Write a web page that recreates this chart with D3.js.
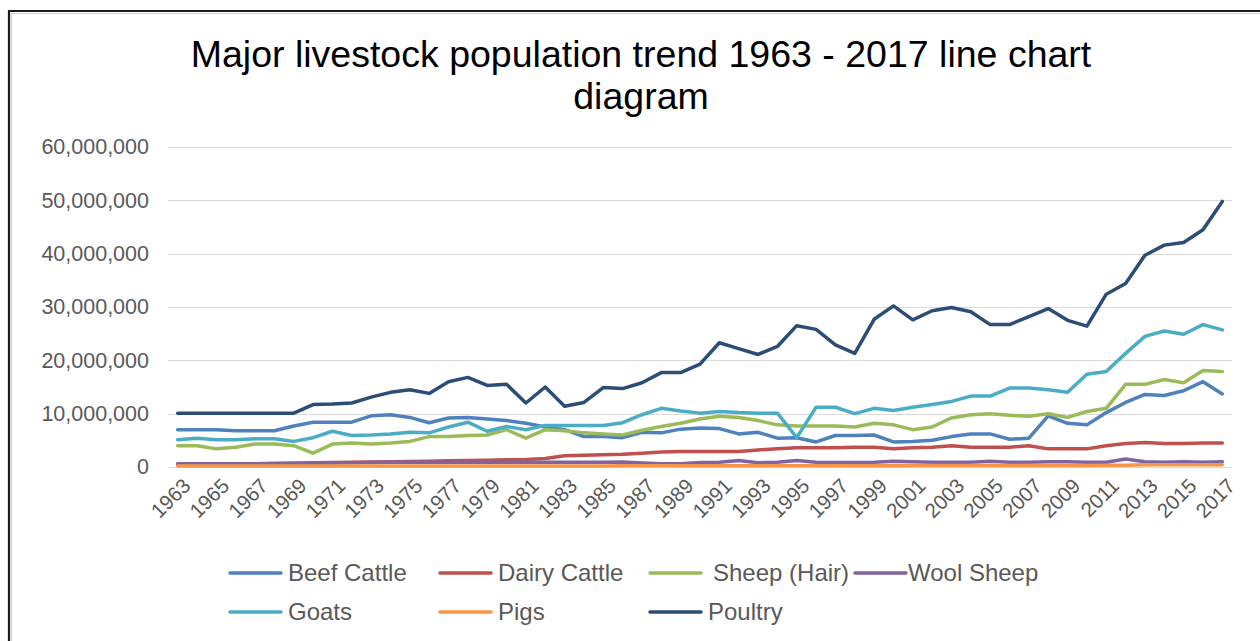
<!DOCTYPE html>
<html>
<head>
<meta charset="utf-8">
<script src="https://cdn.jsdelivr.net/npm/d3@7/dist/d3.min.js"></script>
<style>
  html, body { margin: 0; padding: 0; background: #fff; }
  svg { display: block; font-family: "Liberation Sans", Arial, sans-serif; }
</style>
</head>
<body>
<svg id="chart" width="1260" height="641"></svg>
<script>
// ---- data (values in millions of head) ----
const years = d3.range(1963, 2018);
const seriesNames = ["Beef Cattle", "Dairy Cattle", "Sheep (Hair)", "Wool Sheep", "Goats", "Pigs", "Poultry"];
const seriesColors = ["#4F81BD", "#C0504D", "#9BBB59", "#8064A2", "#4BACC6", "#F79646", "#2C4D75"];

const beefCattle = [7.0, 7.0, 7.0, 6.8, 6.8, 6.8, 7.7, 8.4, 8.4, 8.4,
  9.6, 9.8, 9.3, 8.3, 9.2, 9.3, 9.0, 8.7, 8.2, 7.5,
  7.0, 5.7, 5.7, 5.5, 6.5, 6.4, 7.1, 7.3, 7.2, 6.2,
  6.5, 5.4, 5.5, 4.7, 5.9, 5.9, 6.0, 4.7, 4.8, 5.0,
  5.7, 6.2, 6.2, 5.2, 5.4, 9.6, 8.2, 7.9, 10.2, 12.1,
  13.6, 13.4, 14.3, 16.0, 13.7];
const dairyCattle = [0.5, 0.5, 0.55, 0.6, 0.6, 0.65, 0.7, 0.8, 0.85, 0.9,
  0.95, 1.0, 1.05, 1.1, 1.15, 1.2, 1.25, 1.35, 1.4, 1.6,
  2.1, 2.2, 2.3, 2.4, 2.6, 2.8, 2.9, 2.9, 2.9, 2.9,
  3.2, 3.4, 3.6, 3.6, 3.6, 3.7, 3.7, 3.4, 3.6, 3.7,
  4.0, 3.7, 3.7, 3.7, 4.0, 3.4, 3.4, 3.4, 4.0, 4.4,
  4.6, 4.4, 4.4, 4.5, 4.5];
const sheepHair = [4.0, 4.0, 3.4, 3.7, 4.3, 4.3, 4.0, 2.6, 4.3, 4.5,
  4.3, 4.5, 4.8, 5.7, 5.7, 5.9, 6.0, 7.0, 5.4, 7.0,
  6.8, 6.4, 6.2, 6.0, 6.9, 7.6, 8.2, 9.0, 9.5, 9.3,
  8.7, 7.9, 7.7, 7.7, 7.7, 7.5, 8.2, 7.9, 7.0, 7.5,
  9.2, 9.8, 10.0, 9.7, 9.5, 10.0, 9.3, 10.4, 11.0, 15.5,
  15.5, 16.4, 15.8, 18.1, 17.9];
const woolSheep = [0.6, 0.6, 0.6, 0.6, 0.6, 0.65, 0.7, 0.7, 0.75, 0.8,
  0.85, 0.9, 0.9, 0.9, 0.9, 0.9, 0.9, 0.9, 0.9, 0.9,
  0.9, 0.9, 0.9, 0.95, 0.75, 0.6, 0.6, 0.85, 0.9, 1.2,
  0.8, 0.9, 1.2, 0.9, 0.85, 0.85, 0.9, 1.1, 1.0, 0.9,
  0.9, 0.9, 1.1, 0.9, 0.9, 1.0, 1.0, 0.9, 0.9, 1.5,
  1.0, 0.9, 1.0, 0.9, 1.0];
const goats = [5.1, 5.4, 5.1, 5.1, 5.3, 5.3, 4.8, 5.5, 6.7, 5.9,
  6.0, 6.2, 6.5, 6.4, 7.5, 8.4, 6.7, 7.6, 7.0, 7.8,
  7.8, 7.8, 7.8, 8.3, 9.8, 11.0, 10.5, 10.1, 10.4, 10.2,
  10.1, 10.1, 5.5, 11.2, 11.2, 10.0, 11.0, 10.6, 11.2, 11.7,
  12.3, 13.3, 13.3, 14.8, 14.8, 14.5, 14.0, 17.4, 17.9, 21.3,
  24.5, 25.5, 24.9, 26.7, 25.7];
const pigs = [0.2, 0.2, 0.2, 0.2, 0.2, 0.2, 0.2, 0.2, 0.2, 0.2,
  0.2, 0.2, 0.2, 0.2, 0.2, 0.2, 0.2, 0.2, 0.2, 0.2,
  0.2, 0.2, 0.2, 0.25, 0.25, 0.25, 0.25, 0.25, 0.25, 0.25,
  0.25, 0.25, 0.25, 0.25, 0.25, 0.25, 0.25, 0.25, 0.3, 0.3,
  0.3, 0.3, 0.3, 0.3, 0.3, 0.3, 0.3, 0.3, 0.35, 0.35,
  0.4, 0.4, 0.4, 0.4, 0.4];
const poultry = [10.1, 10.1, 10.1, 10.1, 10.1, 10.1, 10.1, 11.7, 11.8, 12.0,
  13.1, 14.0, 14.5, 13.8, 16.0, 16.8, 15.3, 15.5, 12.0, 15.0,
  11.4, 12.1, 14.9, 14.7, 15.8, 17.7, 17.7, 19.3, 23.3, 22.2,
  21.1, 22.6, 26.5, 25.8, 22.9, 21.3, 27.7, 30.2, 27.6, 29.3,
  29.9, 29.1, 26.7, 26.7, 28.2, 29.7, 27.5, 26.4, 32.4, 34.4,
  39.7, 41.6, 42.1, 44.5, 49.8];
const yTicks = [0, 10000000, 20000000, 30000000, 40000000, 50000000, 60000000];
const titleLines = ["Major livestock population trend 1963 - 2017 line chart", "diagram"];

const seriesValues = [beefCattle, dairyCattle, sheepHair, woolSheep, goats, pigs, poultry];

// ---- layout ----
const svg = d3.select("#chart");
const plot = { left: 168, right: 1232, top: 147, bottom: 467 };

// frame (cropped border)
svg.append("path").attr("d", "M9,641V11H1260").attr("fill", "none")
  .attr("stroke", "#1a1a1a").attr("stroke-width", 2.2);
svg.append("path").attr("d", "M11.5,641V13.5H1260").attr("fill", "none")
  .attr("stroke", "#cfcfcf").attr("stroke-width", 1.2);

// title
svg.append("g").selectAll("text").data(titleLines).join("text")
  .attr("x", 641).attr("y", (d, i) => 67 + i * 42)
  .attr("text-anchor", "middle").attr("font-size", 37.5).attr("fill", "#000")
  .text(d => d);

const x = d3.scaleBand().domain(years).range([plot.left, plot.right]).padding(0);
const y = d3.scaleLinear().domain([0, 60000000]).range([plot.bottom, plot.top]);
const cx = yr => x(yr) + x.bandwidth() / 2;

// gridlines
svg.append("g").selectAll("line").data(yTicks).join("line")
  .attr("x1", plot.left).attr("x2", plot.right)
  .attr("y1", d => Math.round(y(d)) + 0.5).attr("y2", d => Math.round(y(d)) + 0.5)
  .attr("stroke", "#d9d9d9").attr("stroke-width", 1);

// y axis labels
const yAxis = d3.axisLeft(y).tickValues(yTicks).tickSize(0).tickPadding(0)
  .tickFormat(d3.format(","));
const yg = svg.append("g").attr("transform", `translate(149,0)`).call(yAxis);
yg.select(".domain").remove();
yg.selectAll("text").attr("font-size", 21.5).attr("fill", "#595959")
  .attr("font-family", "Liberation Sans, Arial, sans-serif");

// x axis labels (every other year, rotated)
const xAxis = d3.axisBottom(x).tickValues(years.filter((d, i) => i % 2 === 0)).tickSize(0);
const xg = svg.append("g").attr("transform", `translate(0,${plot.bottom})`).call(xAxis);
xg.select(".domain").remove();
xg.selectAll("text")
  .attr("font-size", 20.5).attr("fill", "#595959")
  .attr("font-family", "Liberation Sans, Arial, sans-serif")
  .attr("text-anchor", "end")
  .attr("x", 0).attr("y", 0).attr("dy", "0.35em")
  .attr("transform", "translate(9,15) rotate(-45)");

// lines
const line = d3.line().x((d, i) => cx(years[i])).y(d => y(d * 1e6));
svg.append("g").selectAll("path").data(seriesValues).join("path")
  .attr("d", d => line(d))
  .attr("fill", "none")
  .attr("stroke", (d, i) => seriesColors[i])
  .attr("stroke-width", 3.5)
  .attr("stroke-linejoin", "round")
  .attr("stroke-linecap", "round");

// legend
const legendCols = [230, 440, 650, 855];
const legendRows = [573, 612];
const legendItems = seriesNames.map((name, i) => ({
  name, color: seriesColors[i],
  x: legendCols[i < 4 ? i : i - 4],
  y: legendRows[i < 4 ? 0 : 1]
}));
const lg = svg.append("g").selectAll("g").data(legendItems).join("g")
  .attr("transform", d => `translate(${d.x},${d.y})`);
lg.append("line").attr("x1", 0).attr("x2", 51).attr("y1", 0).attr("y2", 0)
  .attr("stroke", d => d.color).attr("stroke-width", 3.5).attr("stroke-linecap", "round");
lg.append("text").attr("x", d => d.name === "Sheep (Hair)" ? 63 : (d.name === "Wool Sheep" ? 53 : 58)).attr("y", 0).attr("dy", "0.35em")
  .attr("font-size", 24).attr("fill", "#595959")
  .text(d => d.name);
</script>
</body>
</html>
